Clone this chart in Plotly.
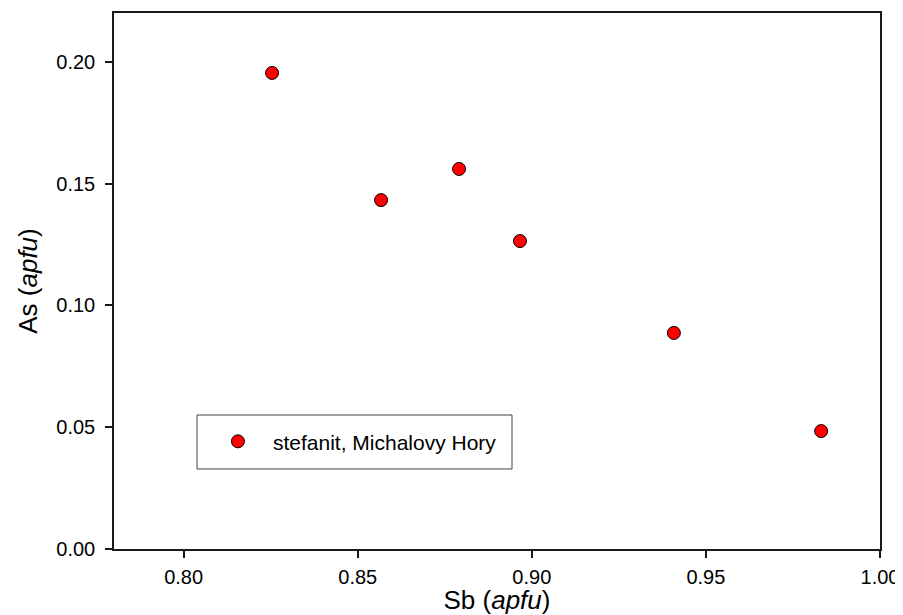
import plotly.graph_objects as go

# Data
sb_apfu = [0.8254, 0.8567, 0.8791, 0.8966, 0.9408, 0.9831]
as_apfu = [0.1954, 0.1432, 0.1560, 0.1264, 0.0887, 0.0484]
series_name = "stefanit, Michalovy Hory"
x_ticks = [0.80, 0.85, 0.90, 0.95, 1.00]
y_ticks = [0.00, 0.05, 0.10, 0.15, 0.20]

FONT = "Liberation Sans, Arial, sans-serif"

fig = go.Figure()
fig.add_trace(go.Scatter(
    x=sb_apfu, y=as_apfu, mode="markers", name=series_name,
    marker=dict(size=13, color="#ff0000", line=dict(color="#000000", width=1)),
))

axis_common = dict(
    showgrid=False, zeroline=False, showline=True, linecolor="#1a1a1a", linewidth=1.5,
    mirror=True, ticks="outside", ticklen=7, tickwidth=1.5, tickcolor="#1a1a1a",
    tickfont=dict(family=FONT, size=20, color="#000"), tickformat=".2f",
    automargin=False,
)

# The page body has an 8px default margin, so the figure is sized to fit the window.
fig.update_layout(
    width=895, height=607,
    margin=dict(l=106, r=23, t=5, b=66),
    paper_bgcolor="white", plot_bgcolor="white",
    font=dict(family=FONT, color="#000"),
    xaxis=dict(range=[0.78, 1.00], tickvals=x_ticks, ticklabelstandoff=2,
               title=dict(text="Sb (<i>apfu</i>)", font=dict(family=FONT, size=26), standoff=8),
               **axis_common),
    yaxis=dict(range=[0.0, 0.22], tickvals=y_ticks, ticklabelstandoff=6,
               title=dict(text="As (<i>apfu</i>)", font=dict(family=FONT, size=26), standoff=11),
               **axis_common),
    showlegend=True,
    legend=dict(x=0.1161, y=0.2002, xanchor="left", yanchor="middle",
                bgcolor="rgba(0,0,0,0)", borderwidth=0, itemwidth=60,
                font=dict(family=FONT, size=21, color="#000")),
    shapes=[dict(type="rect", xref="paper", yref="paper",
                 x0=0.1084, x1=0.5196, y0=0.1493, y1=0.25,
                 line=dict(color="#404040", width=1), fillcolor="rgba(0,0,0,0)", layer="below")],
)

fig.write_html("out.html")
